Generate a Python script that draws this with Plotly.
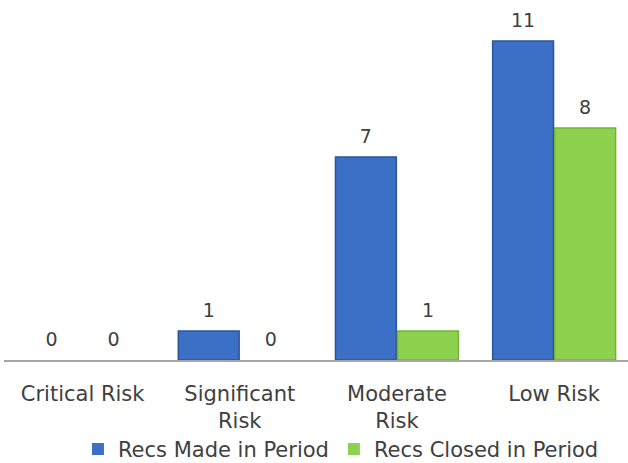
import plotly.graph_objects as go

categories = ["Critical Risk", "Significant<br>Risk", "Moderate<br>Risk", "Low Risk"]
recs_made = [0, 1, 7, 11]
recs_closed = [0, 0, 1, 8]
series_names = ["Recs Made in Period", "Recs Closed in Period"]

font_family = "'DejaVu Sans', sans-serif"
text_color = "#404040"
colors = ["#3B70C6", "#8ED14F"]
edge_colors = ["#2A5597", "#72B33A"]


def outline_widths(values):
    return [0 if v == 0 else 1.5 for v in values]


fig = go.Figure()
for name, vals, col, edge in zip(series_names, [recs_made, recs_closed], colors, edge_colors):
    fig.add_trace(go.Bar(
        x=categories, y=vals, name=name,
        marker=dict(color=col, line=dict(color=edge, width=outline_widths(vals))),
    ))
# value labels, grouped like the bars, lifted above the bar tops
for name, vals in zip(series_names, [recs_made, recs_closed]):
    fig.add_trace(go.Scatter(
        x=categories, y=vals, mode="markers+text", showlegend=False, hoverinfo="skip",
        text=[str(v) for v in vals], textposition="top center",
        marker=dict(size=14, color="rgba(0,0,0,0)"),
        textfont=dict(size=19, color=text_color, family=font_family),
        cliponaxis=False, legendgroup=name,
    ))

fig.update_layout(
    width=628, height=463,
    margin=dict(l=4, r=0, t=10, b=103, autoexpand=False),
    paper_bgcolor="white", plot_bgcolor="white",
    barmode="group", bargap=0.21, bargroupgap=0.02,
    scattermode="group", scattergap=0.21,
    font=dict(family=font_family, size=19, color=text_color),
    showlegend=True,
    legend=dict(orientation="h", x=0.54, xanchor="center", y=-0.255, yanchor="middle",
                font=dict(size=21, color=text_color), itemwidth=30,
                bgcolor="rgba(0,0,0,0)", traceorder="normal"),
)
fig.update_xaxes(range=[-0.5, 3.47], showline=True, linecolor="#A6A6A6", linewidth=1.5,
                 ticks="", showgrid=False, tickfont=dict(size=21, color=text_color),
                 ticklabelstandoff=14, automargin=False)
fig.update_yaxes(range=[0, 12.07], visible=False, showgrid=False, zeroline=False)

fig.write_html("out.html", post_script="document.body.style.margin='0px';",
               config={"displayModeBar": False})
